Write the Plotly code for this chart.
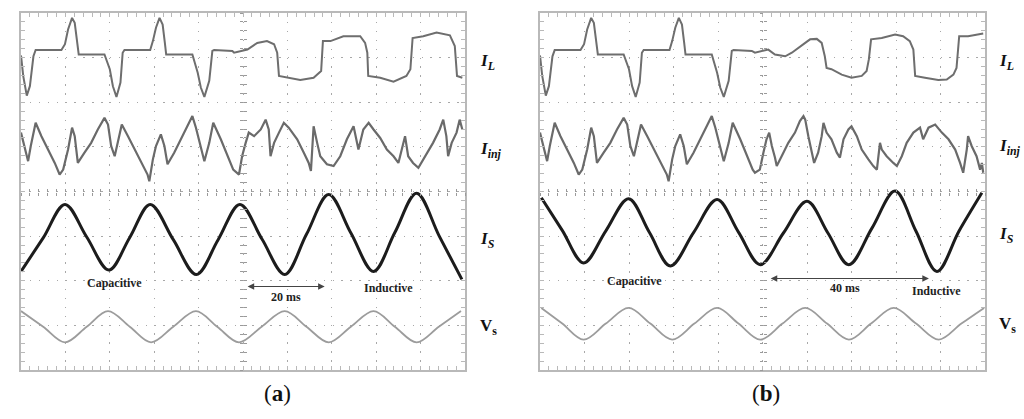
import plotly.graph_objects as go

# all values in oscilloscope divisions (x: 0..10, y: -4..4, 0 = centre line)

# capacitive half, identical in both captures
cap_il_x = [0.00, 0.05, 0.13, 0.20, 0.28, 0.33, 0.91, 0.99, 1.06, 1.15, 1.21, 1.26, 1.30, 1.88,
            2.00, 2.07, 2.15, 2.24, 2.29, 2.33, 2.91, 2.97, 3.04, 3.12, 3.19, 3.24, 3.27, 3.86,
            3.98, 4.05, 4.13, 4.24, 4.31, 4.35, 4.76]
cap_il_y = [3.05, 2.59, 2.15, 2.36, 3.03, 3.17, 3.17, 3.30, 3.63, 3.89, 3.78, 3.33, 3.07, 3.07,
            2.74, 2.36, 2.12, 2.44, 3.11, 3.17, 3.17, 3.37, 3.67, 3.89, 3.74, 3.33, 3.07, 3.07,
            2.66, 2.33, 2.12, 2.48, 3.15, 3.17, 3.15]

cap_inj_x = [0.00, 0.09, 0.16, 0.22, 0.33, 0.46, 0.61, 0.76, 0.87, 0.95, 1.06, 1.15, 1.21, 1.28,
             1.43, 1.58, 1.73, 1.88, 1.96, 2.03, 2.11, 2.18, 2.27, 2.41, 2.56, 2.71, 2.85, 2.89,
             2.97, 3.04, 3.15, 3.23, 3.30, 3.45, 3.60, 3.75, 3.86, 3.94, 4.05, 4.13, 4.24, 4.33,
             4.50, 4.65, 4.78]
cap_inj_y = [1.32, 0.94, 0.68, 1.02, 1.54, 1.24, 0.94, 0.64, 0.38, 0.49, 0.94, 1.43, 1.24, 0.64,
             0.87, 1.09, 1.39, 1.65, 1.50, 1.02, 0.79, 1.09, 1.50, 1.24, 0.94, 0.64, 0.38, 0.23,
             0.72, 1.02, 1.28, 1.02, 0.61, 0.87, 1.17, 1.46, 1.69, 1.43, 1.02, 0.68, 1.09, 1.54,
             1.17, 0.79, 0.49]

# (a) inductive half
a_il_x = [4.80, 5.10, 5.32, 5.54, 5.70, 5.77, 5.81, 5.99, 6.29, 6.59, 6.76, 6.80, 6.97, 7.26,
          7.64, 7.75, 7.80, 7.82, 8.09, 8.39, 8.68, 8.77, 8.82, 9.06, 9.36, 9.66, 9.77, 9.82, 9.94]
a_il_y = [3.11, 3.18, 3.33, 3.37, 3.30, 3.11, 2.59, 2.55, 2.50, 2.55, 2.70, 3.37, 3.37, 3.48,
          3.48, 3.33, 3.11, 2.59, 2.55, 2.46, 2.59, 2.74, 3.44, 3.48, 3.56, 3.50, 3.26, 2.59, 2.55]

a_inj_x = [4.91, 4.98, 5.06, 5.13, 5.25, 5.40, 5.51, 5.58, 5.62, 5.70, 5.81, 5.92, 6.03, 6.22,
           6.37, 6.48, 6.53, 6.59, 6.67, 6.74, 6.89, 7.04, 7.19, 7.34, 7.49, 7.60, 7.71, 7.83,
           7.94, 8.09, 8.24, 8.39, 8.50, 8.57, 8.65, 8.72, 8.83, 8.95, 9.10, 9.28, 9.43, 9.51,
           9.58, 9.62, 9.70, 9.81, 9.88, 9.94]
a_inj_y = [0.38, 0.79, 1.09, 1.32, 1.24, 1.39, 1.61, 1.39, 0.79, 1.09, 1.32, 1.54, 1.43, 1.17,
           0.87, 0.64, 0.46, 1.46, 1.09, 0.79, 0.61, 0.57, 0.79, 1.17, 1.46, 0.94, 1.39, 1.54,
           1.39, 1.20, 0.94, 0.79, 0.64, 0.94, 1.24, 0.79, 0.64, 0.53, 0.79, 1.09, 1.39, 1.61,
           1.24, 0.79, 1.09, 1.32, 1.61, 1.39]

a_is_x = [0.00, 0.50, 0.99, 1.48, 1.98, 2.45, 2.91, 3.43, 3.95, 4.44, 4.93, 5.43, 5.94, 6.43,
          6.93, 7.43, 7.94, 8.42, 8.91, 9.42, 9.93]
a_is_y = [-1.79, -1.04, -0.29, -1.02, -1.76, -1.03, -0.29, -1.08, -1.86, -1.08, -0.29, -1.07,
          -1.86, -0.96, -0.07, -0.93, -1.79, -0.92, -0.04, -1.00, -1.97]

a_vs_x = [0.00, 0.50, 0.99, 1.48, 1.96, 2.45, 2.93, 3.43, 3.94, 4.42, 4.91, 5.42, 5.94, 6.43,
          6.93, 7.43, 7.94, 8.42, 8.91, 9.41, 9.91]
a_vs_y = [-2.68, -3.03, -3.38, -3.03, -2.68, -3.03, -3.38, -3.03, -2.68, -3.03, -3.38, -3.03,
          -2.68, -3.03, -3.38, -3.03, -2.68, -3.03, -3.38, -3.03, -2.68]

# (b) inductive half
b_il_x = [4.83, 4.98, 5.13, 5.28, 5.51, 5.66, 5.80, 5.96, 6.07, 6.22, 6.33, 6.40, 6.44, 6.55,
          6.78, 7.00, 7.23, 7.34, 7.39, 7.44, 7.68, 7.98, 8.16, 8.31, 8.39, 8.43, 8.65, 8.95,
          9.14, 9.29, 9.36, 9.42, 9.62, 9.85, 9.96]
b_il_y = [3.11, 3.15, 3.18, 3.07, 3.03, 3.11, 3.22, 3.33, 3.41, 3.42, 3.33, 3.03, 2.77, 2.74,
          2.62, 2.55, 2.59, 2.70, 2.96, 3.41, 3.44, 3.52, 3.48, 3.37, 3.18, 2.59, 2.55, 2.50,
          2.51, 2.62, 2.77, 3.48, 3.48, 3.52, 3.54]

b_inj_x = [4.83, 4.94, 5.02, 5.09, 5.15, 5.21, 5.28, 5.32, 5.43, 5.58, 5.73, 5.84, 5.92, 5.96,
           6.03, 6.10, 6.16, 6.25, 6.33, 6.37, 6.44, 6.55, 6.67, 6.74, 6.82, 6.93, 7.00, 7.12,
           7.23, 7.38, 7.49, 7.57, 7.64, 7.68, 7.79, 7.94, 8.02, 8.13, 8.24, 8.39, 8.54, 8.61,
           8.73, 8.88, 9.03, 9.18, 9.33, 9.44, 9.51, 9.59, 9.62, 9.70, 9.81, 9.89, 9.93, 9.96]
b_inj_y = [0.42, 0.49, 0.87, 1.17, 1.32, 1.02, 0.76, 0.57, 0.79, 1.09, 1.32, 1.58, 1.69, 1.61,
           1.24, 0.87, 0.64, 0.87, 1.24, 1.54, 1.32, 1.17, 0.87, 0.76, 1.17, 1.39, 1.46, 1.24,
           0.94, 0.72, 0.57, 0.49, 1.09, 0.94, 0.79, 0.64, 0.57, 0.79, 1.09, 1.32, 1.43, 1.17,
           1.43, 1.50, 1.32, 1.17, 0.94, 0.64, 0.42, 0.94, 1.24, 1.02, 0.79, 0.49, 0.64, 0.42]

b_is_x = [0.03, 0.50, 0.98, 1.48, 1.99, 2.46, 2.93, 3.45, 3.98, 4.46, 4.95, 5.47, 6.00, 6.47,
          6.94, 7.46, 7.98, 8.45, 8.92, 9.42, 9.93]
b_is_y = [-0.14, -0.87, -1.60, -0.88, -0.16, -0.92, -1.67, -0.92, -0.18, -0.91, -1.64, -0.93,
          -0.22, -0.93, -1.64, -0.82, 0.01, -0.89, -1.79, -0.88, -0.03]

b_vs_x = [0.03, 0.50, 0.98, 1.48, 1.99, 2.48, 2.97, 3.47, 3.98, 4.46, 4.95, 5.45, 5.96, 6.45,
          6.94, 7.44, 7.95, 8.45, 8.96, 9.47, 9.98]
b_vs_y = [-2.61, -2.96, -3.32, -2.96, -2.61, -2.96, -3.32, -2.96, -2.61, -2.96, -3.32, -2.96,
          -2.61, -2.96, -3.32, -2.96, -2.61, -2.96, -3.32, -2.96, -2.61]

W, H = 1024, 419
FRAME = "#b9b9b9"
GRID = "#a8a8a8"
SERIF = "Liberation Serif"

panels = {
    "a": dict(x0=21, x1=465, ax="x", ay="y", ox=("x3", "x4"), oy=("y3", "y4"),
              il=(cap_il_x + a_il_x, cap_il_y + a_il_y),
              inj=(cap_inj_x + a_inj_x, cap_inj_y + a_inj_y),
              isrc=(a_is_x, a_is_y), vs=(a_vs_x, a_vs_y)),
    "b": dict(x0=540, x1=985, ax="x2", ay="y2", ox=("x5", "x6"), oy=("y5", "y6"),
              il=(cap_il_x + b_il_x, cap_il_y + b_il_y),
              inj=(cap_inj_x + b_inj_x, cap_inj_y + b_inj_y),
              isrc=(b_is_x, b_is_y), vs=(b_vs_x, b_vs_y)),
}
ytop, ybot = 13, 370
ydom = [1 - ybot / H, 1 - ytop / H]
yc = (ydom[0] + ydom[1]) / 2

fig = go.Figure()
layout = dict(width=W, height=H, margin=dict(l=0, r=0, t=0, b=0),
              paper_bgcolor="white", plot_bgcolor="white", showlegend=False)


def main_axis(dom, rng, anchor):
    return dict(domain=dom, range=rng, anchor=anchor, tick0=0, dtick=1,
                showgrid=True, gridcolor=GRID, gridwidth=1.3, griddash="1.4px,7.5px",
                showline=True, linecolor=FRAME, linewidth=1.5, mirror="allticks",
                ticks="inside", ticklen=4, tickcolor=FRAME, tickwidth=1,
                minor=dict(dtick=0.2, tick0=0, ticks="inside", ticklen=4,
                           tickcolor=FRAME, tickwidth=1, showgrid=False),
                showticklabels=False, zeroline=False, fixedrange=True)


def centre_axis(rng, over, pos, side):
    return dict(range=rng, overlaying=over, anchor="free", position=pos,
                tick0=0, dtick=0.2, ticks=side, ticklen=3, tickcolor="#9a9a9a", tickwidth=1,
                showgrid=False, showline=False, zeroline=False, showticklabels=False,
                fixedrange=True)


for key, p in panels.items():
    xdom = [p["x0"] / W, p["x1"] / W]
    xc = (xdom[0] + xdom[1]) / 2
    axn, ayn = p["ax"], p["ay"]
    layout[axn.replace("x", "xaxis")] = main_axis(xdom, [0, 10], ayn)
    layout[ayn.replace("y", "yaxis")] = main_axis(ydom, [-4, 4], axn)
    for ox, oy, side in zip(p["ox"], p["oy"], ["inside", "outside"]):
        layout[ox.replace("x", "xaxis")] = centre_axis([0, 10], axn, yc, side)
        layout[oy.replace("y", "yaxis")] = centre_axis([-4, 4], ayn, xc, side)
        fig.add_trace(go.Scatter(x=[None], y=[None], xaxis=ox, yaxis=oy, hoverinfo="skip"))

    styles = [("il", "#6e6e6e", 2.0, "linear"), ("inj", "#6a6a6a", 2.2, "linear"),
              ("isrc", "#1c1c1c", 3.0, "spline"), ("vs", "#9c9c9c", 1.8, "spline")]
    for name, col, w, shape in styles:
        xs, ys = p[name]
        fig.add_trace(go.Scatter(x=xs, y=ys, mode="lines", xaxis=axn, yaxis=ayn,
                                 line=dict(color=col, width=w, shape=shape)))

fig.update_layout(go.Layout(**layout))

ann_font = dict(family=SERIF, size=12, color="#222")
notes = [
    ("x", "y", 2.11, -2.06, "<b>Capacitive</b>"),
    ("x", "y", 5.96, -2.36, "<b>20 ms</b>"),
    ("x", "y", 8.27, -2.17, "<b>Inductive</b>"),
    ("x2", "y2", 2.13, -2.0, "<b>Capacitive</b>"),
    ("x2", "y2", 6.85, -2.17, "<b>40 ms</b>"),
    ("x2", "y2", 8.90, -2.22, "<b>Inductive</b>"),
]
for xr, yr, x, y, t in notes:
    fig.add_annotation(xref=xr, yref=yr, x=x, y=y, text=t, showarrow=False, font=ann_font)

# double-headed time arrows
for xr, yr, xa, xb, y in [("x", "y", 5.07, 6.84, -2.13), ("x2", "y2", 5.15, 8.74, -1.95)]:
    fig.add_annotation(xref=xr, yref=yr, axref=xr, ayref=yr, x=xb, y=y, ax=xa, ay=y,
                       text="", showarrow=True, arrowhead=2, arrowside="end+start",
                       arrowsize=1.2, arrowwidth=1.1, arrowcolor="#444")

side_font = dict(family=SERIF, size=17, color="#111")
side_labels = [
    (478, 62, "<b><i>I<sub>L</sub></i></b>"),
    (478, 150, "<b><i>I<sub>inj</sub></i></b>"),
    (478, 240, "<b><i>I<sub>S</sub></i></b>"),
    (478, 327, "<b>V<sub>s</sub></b>"),
    (997, 62, "<b><i>I<sub>L</sub></i></b>"),
    (997, 147, "<b><i>I<sub>inj</sub></i></b>"),
    (997, 235, "<b><i>I<sub>S</sub></i></b>"),
    (997, 325, "<b>V<sub>s</sub></b>"),
]
for px, py, t in side_labels:
    fig.add_annotation(xref="paper", yref="paper", x=px / W, y=1 - py / H, text=t,
                       showarrow=False, xanchor="left", yanchor="middle", font=side_font)

for px, t in [(262, "(<b>a</b>)"), (782, "(<b>b</b>)")]:
    fig.add_annotation(xref="paper", yref="paper", x=px / W, y=1 - 379 / H, text=t,
                       showarrow=False, yanchor="top",
                       font=dict(family=SERIF, size=23, color="#111"))

fig.write_html("out.html", config={"displayModeBar": False},
               post_script="document.body.style.margin='0px';")
